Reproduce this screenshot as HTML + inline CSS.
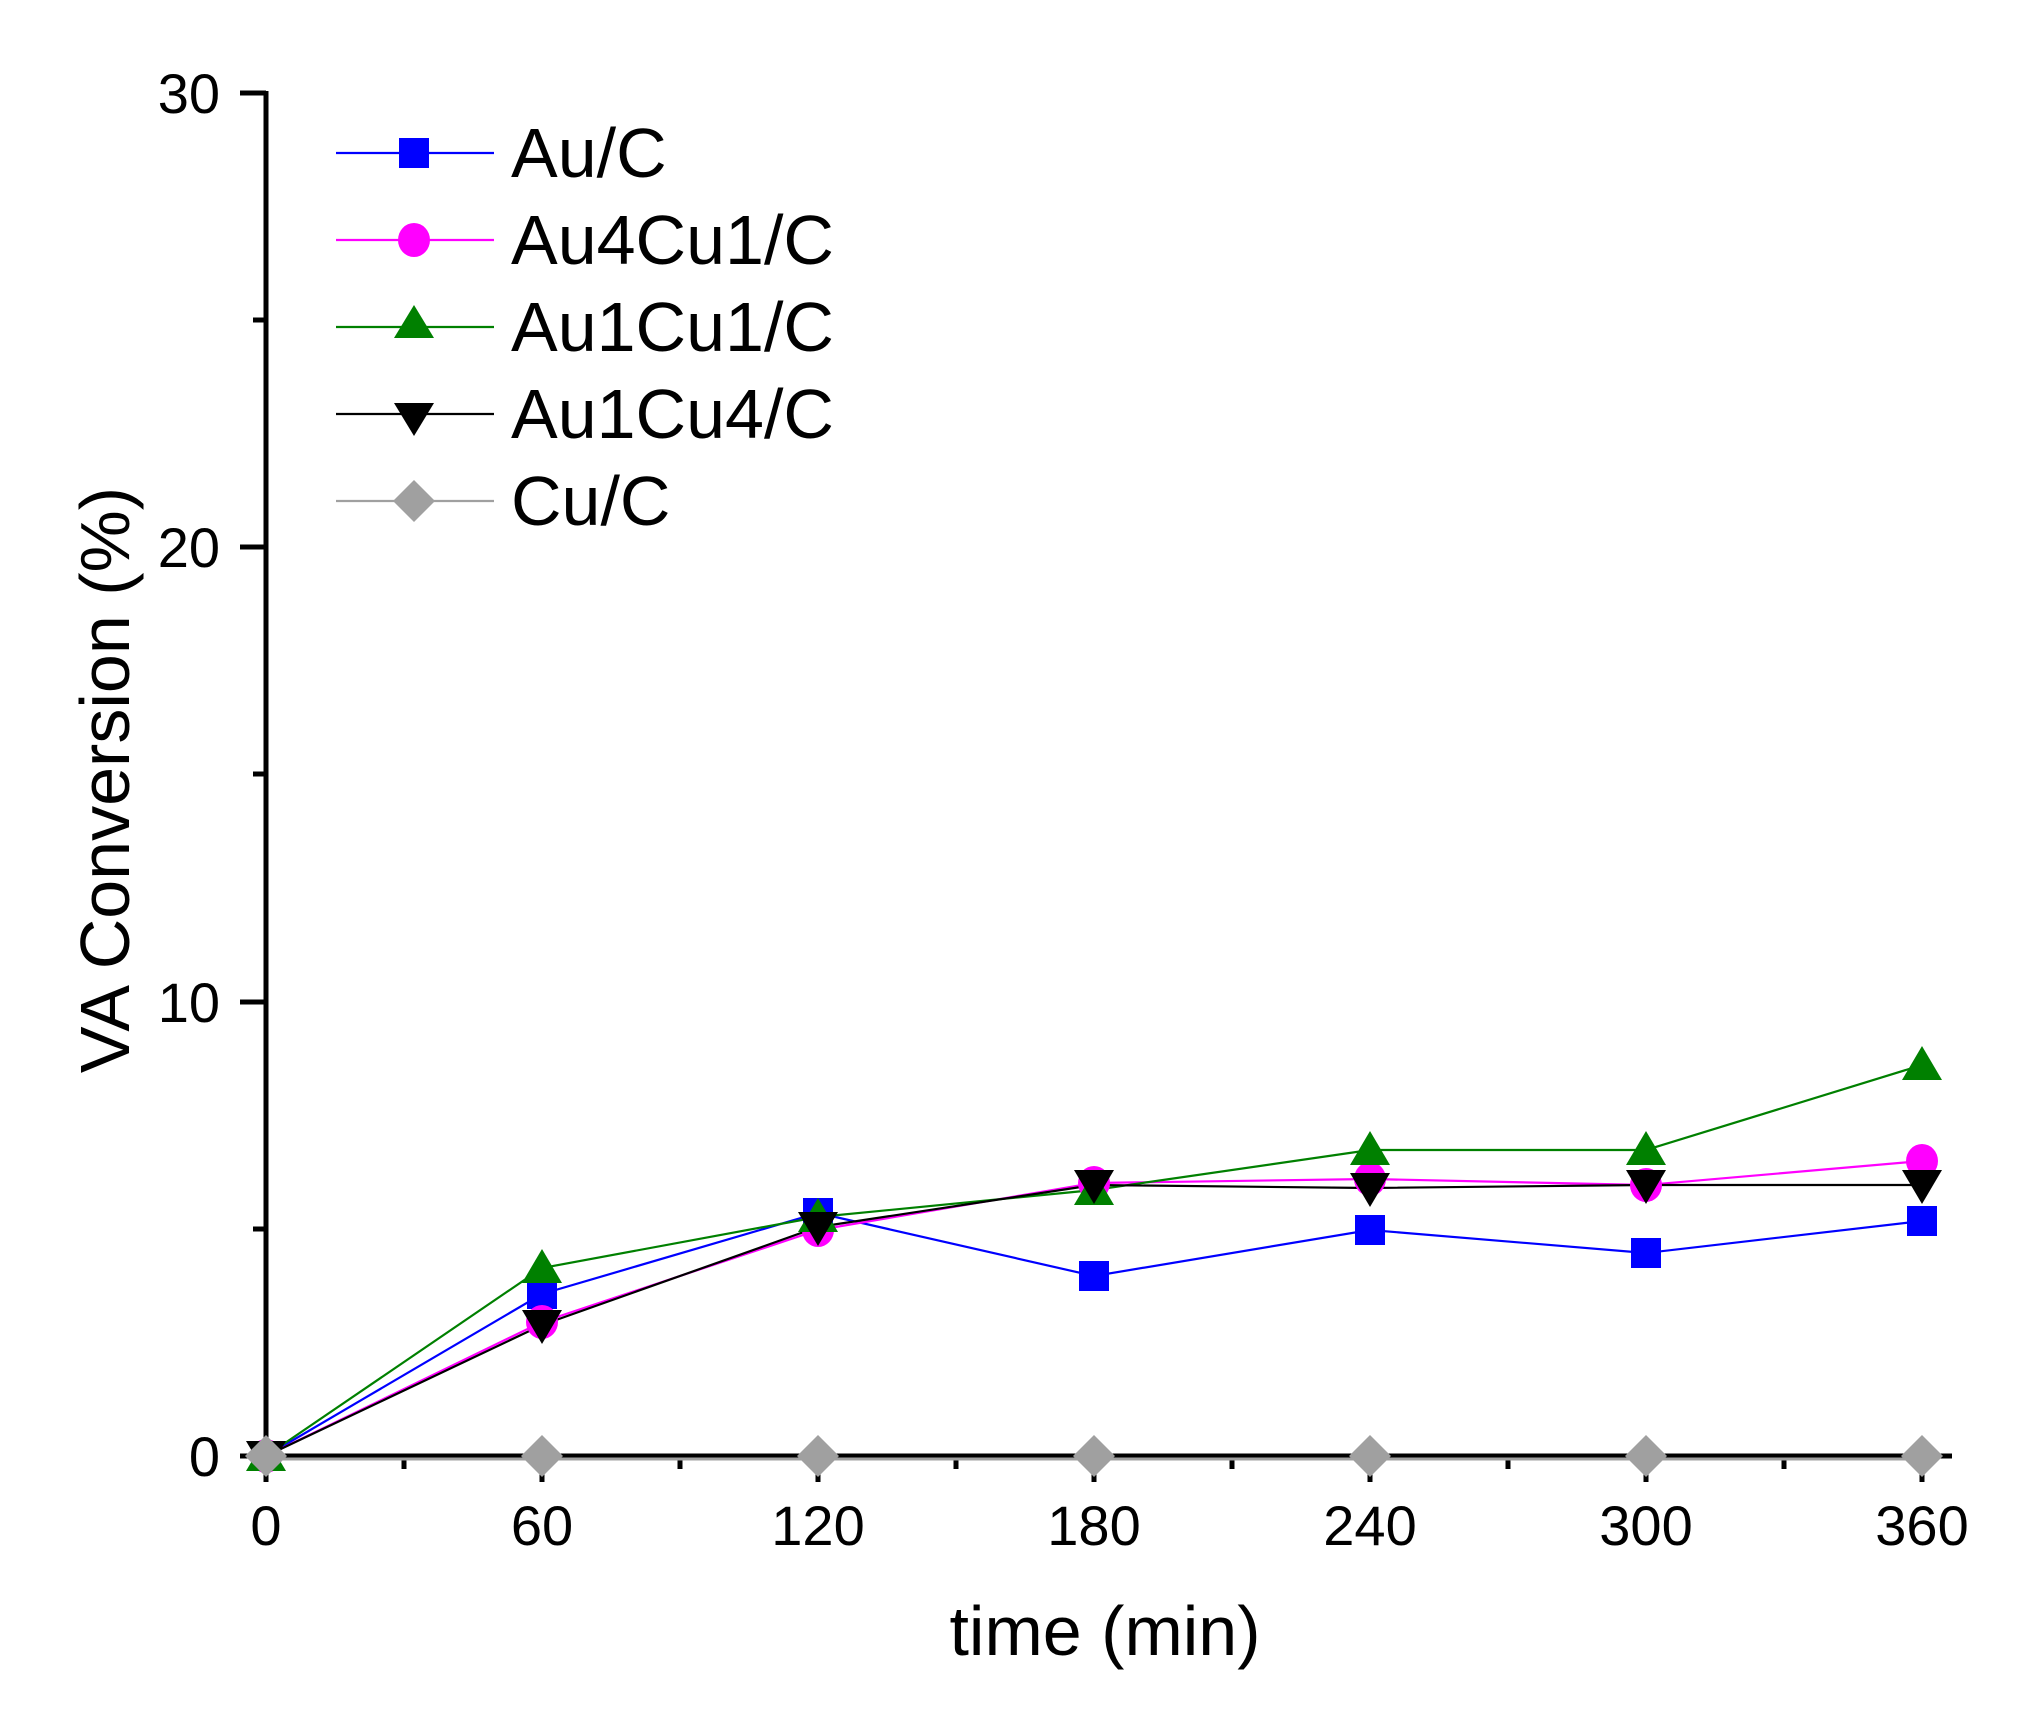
<!DOCTYPE html>
<html><head><meta charset="utf-8"><style>html,body{margin:0;padding:0;background:#fff}svg{display:block}</style></head>
<body>
<svg width="2035" height="1730" viewBox="0 0 2035 1730" xmlns="http://www.w3.org/2000/svg" font-family="'Liberation Sans', Arial, sans-serif">
<rect width="2035" height="1730" fill="#fff"/>
<g stroke="#000" stroke-width="5" fill="none">
<line x1="266" y1="91" x2="266" y2="1458"/>
<line x1="264" y1="1456" x2="1952" y2="1456"/>
<line x1="240" y1="93" x2="266" y2="93"/>
<line x1="240" y1="547" x2="266" y2="547"/>
<line x1="240" y1="1002" x2="266" y2="1002"/>
<line x1="240" y1="1456" x2="266" y2="1456"/>
<line x1="253" y1="320" x2="266" y2="320"/>
<line x1="253" y1="774" x2="266" y2="774"/>
<line x1="253" y1="1229" x2="266" y2="1229"/>
<line x1="266" y1="1456" x2="266" y2="1482"/>
<line x1="542" y1="1456" x2="542" y2="1482"/>
<line x1="818" y1="1456" x2="818" y2="1482"/>
<line x1="1094" y1="1456" x2="1094" y2="1482"/>
<line x1="1370" y1="1456" x2="1370" y2="1482"/>
<line x1="1646" y1="1456" x2="1646" y2="1482"/>
<line x1="1922" y1="1456" x2="1922" y2="1482"/>
<line x1="404" y1="1456" x2="404" y2="1469"/>
<line x1="680" y1="1456" x2="680" y2="1469"/>
<line x1="956" y1="1456" x2="956" y2="1469"/>
<line x1="1232" y1="1456" x2="1232" y2="1469"/>
<line x1="1508" y1="1456" x2="1508" y2="1469"/>
<line x1="1784" y1="1456" x2="1784" y2="1469"/>
</g>
<g font-size="56" fill="#000" text-anchor="end">
<text x="220" y="113">30</text>
<text x="220" y="567">20</text>
<text x="220" y="1022">10</text>
<text x="220" y="1476">0</text>
</g>
<g font-size="56" fill="#000" text-anchor="middle">
<text x="266" y="1545">0</text>
<text x="542" y="1545">60</text>
<text x="818" y="1545">120</text>
<text x="1094" y="1545">180</text>
<text x="1370" y="1545">240</text>
<text x="1646" y="1545">300</text>
<text x="1922" y="1545">360</text>
</g>
<text x="1105" y="1655" font-size="70" text-anchor="middle">time (min)</text>
<text transform="translate(129,780) rotate(-90)" font-size="70" text-anchor="middle">VA Conversion (%)</text>

<g fill="none" stroke-width="2.2">
<polyline stroke="#0000ff" points="266,1456 542,1294 818,1213 1094,1276 1370,1230 1646,1253 1922,1221"/>
<polyline stroke="#ff00ff" points="266,1456 542,1322 818,1230 1094,1183 1370,1179 1646,1185 1922,1161"/>
<polyline stroke="#008000" points="266,1456 542,1268 818,1217 1094,1190 1370,1150 1646,1150 1922,1065"/>
<polyline stroke="#000" points="266,1456 542,1325 818,1227 1094,1185 1370,1188 1646,1185 1922,1185"/>
<polyline stroke="#a0a0a0" stroke-width="3" points="266,1459 1922,1459"/>
</g>
<g fill="#0000ff">
<rect x="251" y="1441" width="30" height="30"/>
<rect x="527" y="1279" width="30" height="30"/>
<rect x="803" y="1198" width="30" height="30"/>
<rect x="1079" y="1261" width="30" height="30"/>
<rect x="1355" y="1215" width="30" height="30"/>
<rect x="1631" y="1238" width="30" height="30"/>
<rect x="1907" y="1206" width="30" height="30"/>
</g>
<g fill="#ff00ff">
<ellipse cx="266" cy="1456" rx="16" ry="17"/>
<ellipse cx="542" cy="1322" rx="16" ry="17"/>
<ellipse cx="818" cy="1230" rx="16" ry="17"/>
<ellipse cx="1094" cy="1183" rx="16" ry="17"/>
<ellipse cx="1370" cy="1179" rx="16" ry="17"/>
<ellipse cx="1646" cy="1185" rx="16" ry="17"/>
<ellipse cx="1922" cy="1161" rx="16" ry="17"/>
</g>
<g fill="#008000">
<polygon points="266,1437 286,1471 246,1471"/>
<polygon points="542,1249 562,1283 522,1283"/>
<polygon points="818,1198 838,1232 798,1232"/>
<polygon points="1094,1171 1114,1205 1074,1205"/>
<polygon points="1370,1131 1390,1165 1350,1165"/>
<polygon points="1646,1131 1666,1165 1626,1165"/>
<polygon points="1922,1046 1942,1080 1902,1080"/>
</g>
<g fill="#000">
<polygon points="266,1475 286,1441 246,1441"/>
<polygon points="542,1344 562,1310 522,1310"/>
<polygon points="818,1246 838,1212 798,1212"/>
<polygon points="1094,1204 1114,1170 1074,1170"/>
<polygon points="1370,1207 1390,1173 1350,1173"/>
<polygon points="1646,1204 1666,1170 1626,1170"/>
<polygon points="1922,1204 1942,1170 1902,1170"/>
</g>
<g fill="#a0a0a0">
<polygon points="266,1435 287,1456 266,1477 245,1456"/>
<polygon points="542,1435 563,1456 542,1477 521,1456"/>
<polygon points="818,1435 839,1456 818,1477 797,1456"/>
<polygon points="1094,1435 1115,1456 1094,1477 1073,1456"/>
<polygon points="1370,1435 1391,1456 1370,1477 1349,1456"/>
<polygon points="1646,1435 1667,1456 1646,1477 1625,1456"/>
<polygon points="1922,1435 1943,1456 1922,1477 1901,1456"/>
</g>

<g stroke-width="2.2">
<line x1="336" y1="153" x2="494" y2="153" stroke="#0000ff"/>
<line x1="336" y1="240" x2="494" y2="240" stroke="#ff00ff"/>
<line x1="336" y1="327" x2="494" y2="327" stroke="#008000"/>
<line x1="336" y1="414" x2="494" y2="414" stroke="#000"/>
<line x1="336" y1="501" x2="494" y2="501" stroke="#a0a0a0"/>
</g>
<rect x="399" y="138" width="30" height="30" fill="#0000ff"/>
<ellipse cx="414" cy="240" rx="16" ry="17" fill="#ff00ff"/>
<polygon points="414,305 434,338 394,338" fill="#008000"/>
<polygon points="414,436 434,403 394,403" fill="#000"/>
<polygon points="414,480 435,501 414,522 393,501" fill="#a0a0a0"/>
<g font-size="70" fill="#000">
<text x="511" y="177">Au/C</text>
<text x="511" y="264">Au4Cu1/C</text>
<text x="511" y="351">Au1Cu1/C</text>
<text x="511" y="438">Au1Cu4/C</text>
<text x="511" y="525">Cu/C</text>
</g>
</svg>
</body></html>
